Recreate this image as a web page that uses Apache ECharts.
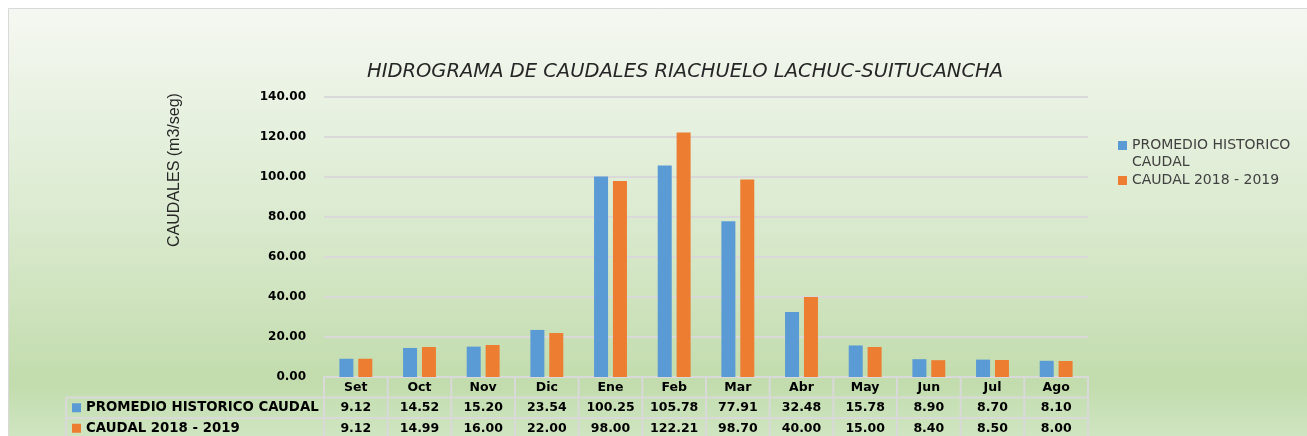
<!DOCTYPE html>
<html><head><meta charset="utf-8">
<script src="https://cdn.jsdelivr.net/npm/echarts@6/dist/echarts.min.js"></script>
<style>html,body{margin:0;padding:0;background:#fff}#c{width:1307px;height:436px}</style>
</head><body><div id="c"></div>
<script>
var categories = ['Set','Oct','Nov','Dic','Ene','Feb','Mar','Abr','May','Jun','Jul','Ago'];
var promedio = [9.12,14.52,15.20,23.54,100.25,105.78,77.91,32.48,15.78,8.90,8.70,8.10];
var caudal = [9.12,14.99,16.00,22.00,98.00,122.21,98.70,40.00,15.00,8.40,8.50,8.00];
var seriesNames = ['PROMEDIO HISTORICO CAUDAL','CAUDAL 2018 - 2019'];
var colors = ['#5b9bd5','#ed7d31'];

var chart = echarts.init(document.getElementById('c'));
var option = {
  animation:false,
  title:{text:'HIDROGRAMA DE CAUDALES RIACHUELO LACHUC-SUITUCANCHA',left:680,top:57,textAlign:'center',
    textStyle:{fontFamily:'DejaVu Sans',fontStyle:'italic',fontWeight:'normal',fontSize:19.5,color:'#262626'}},
  legend:{show:false},
  grid:{left:324,right:219,top:97,bottom:59},
  xAxis:{type:'category',data:categories,axisLine:{show:true,lineStyle:{color:'#d9d9d9',width:2}},
    axisTick:{show:false},axisLabel:{show:false}},
  yAxis:{type:'value',min:0,max:140,interval:20,
    axisLine:{show:false},axisTick:{show:false},
    splitLine:{lineStyle:{color:'#d9d9d9',width:2}},
    axisLabel:{margin:18,color:'#000',fontFamily:'DejaVu Sans',fontWeight:'bold',fontSize:12,
      formatter:function(v){return v.toFixed(2);}}},
  series:[
    {name:seriesNames[0],type:'bar',data:promedio,barWidth:14,barGap:'35%',itemStyle:{color:colors[0]}},
    {name:seriesNames[1],type:'bar',data:caudal,barWidth:14,itemStyle:{color:colors[1]}}
  ]
};
chart.setOption(option);

var g = [];
g.push({type:'rect',z:-100,silent:true,shape:{x:8.5,y:8.5,width:1310,height:440},
  style:{stroke:'#d9d9d9',lineWidth:1,fill:new echarts.graphic.LinearGradient(0,0,0,1,[
    {offset:0,color:'#f5f8f2'},{offset:0.45,color:'#dcebd1'},{offset:0.85,color:'#c2dcad'},{offset:1,color:'#d2e7c6'}])}});

// y-axis title
g.push({type:'text',x:175,y:170,rotation:Math.PI/2,
  style:{text:'CAUDALES (m3/seg)',fontFamily:'Liberation Sans',fontSize:16,fill:'#262626',align:'center',verticalAlign:'middle'}});

// legend
var legendItems = [['PROMEDIO HISTORICO','CAUDAL'],['CAUDAL 2018 - 2019']];
var ly = [146,181];
for (var s=0;s<2;s++){
  g.push({type:'rect',shape:{x:1118,y:ly[s]-5,width:9,height:9},style:{fill:colors[s]}});
  g.push({type:'text',x:1132,y:ly[s]-9,style:{text:legendItems[s].join('\n'),fontFamily:'DejaVu Sans',fontSize:14,lineHeight:17,fill:'#404040'}});
}

// table
var c0 = chart.convertToPixel({xAxisIndex:0},0);
var c1 = chart.convertToPixel({xAxisIndex:0},1);
var bw = c1 - c0;
var x0 = c0 - bw/2;
var xEnd = x0 + bw*categories.length;
var yTop = chart.convertToPixel({yAxisIndex:0},0);
var rowH = 20.5;
var leftX = 66;
var lineStyle = {stroke:'#d9d9d9',lineWidth:2};
g.push({type:'line',shape:{x1:x0,y1:yTop,x2:xEnd,y2:yTop},style:lineStyle});
for (var r=1;r<=3;r++){
  g.push({type:'line',shape:{x1:leftX,y1:yTop+r*rowH,x2:xEnd,y2:yTop+r*rowH},style:lineStyle});
}
for (var i=0;i<=categories.length;i++){
  var xx = x0 + i*bw;
  g.push({type:'line',shape:{x1:xx,y1:yTop,x2:xx,y2:yTop+3*rowH},style:lineStyle});
}
g.push({type:'line',shape:{x1:leftX,y1:yTop+rowH,x2:leftX,y2:yTop+3*rowH},style:lineStyle});
var tf = {fontFamily:'DejaVu Sans',fontWeight:'bold',fontSize:12.5,fill:'#000',align:'center',verticalAlign:'middle'};
var rows = [promedio,caudal];
for (var i=0;i<categories.length;i++){
  var cx = chart.convertToPixel({xAxisIndex:0},i);
  g.push({type:'text',x:cx,y:yTop+rowH*0.5,style:Object.assign({text:categories[i]},tf)});
  for (var s=0;s<2;s++){
    g.push({type:'text',x:cx,y:yTop+rowH*(1.5+s),style:Object.assign({text:rows[s][i].toFixed(2)},tf)});
  }
}
for (var s=0;s<2;s++){
  var yy = yTop+rowH*(1.5+s);
  g.push({type:'rect',shape:{x:72,y:yy-4.5,width:9,height:9},style:{fill:colors[s]}});
  g.push({type:'text',x:86,y:yy,style:Object.assign({},tf,{text:seriesNames[s],align:'left',fontSize:13.3})});
}
chart.setOption({graphic:g});
</script></body></html>
